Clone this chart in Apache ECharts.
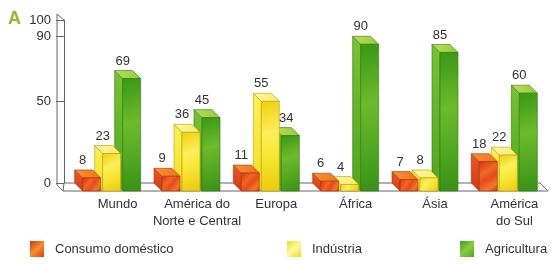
<!DOCTYPE html>
<html><head><meta charset="utf-8">
<script src="https://cdn.jsdelivr.net/npm/echarts@6/dist/echarts.min.js"></script>
<style>html,body{margin:0;padding:0;background:#fff}#c{width:551px;height:265px}</style>
</head><body><div id="c"></div>
<script>
const categories = ['Mundo', 'América do\nNorte e Central', 'Europa', 'África', 'Ásia', 'América\ndo Sul'];
const seriesNames = ['Consumo doméstico', 'Indústria', 'Agricultura'];
const domestic = [8, 9, 11, 6, 7, 18];
const industry = [23, 36, 55, 4, 8, 22];
const agriculture = [69, 45, 34, 90, 85, 60];
const yTickValues = [0, 50, 90, 100];

const allValues = [domestic, industry, agriculture];
const FONT = "'Liberation Sans', Arial, sans-serif";
const DX = -8, DY = -8;
const BAR_W = 18, BAR_STEP = 20;

function lin(stops, x2, y2) {
  return {type: 'linear', x: 0, y: 0, x2: x2 === undefined ? 1 : x2, y2: y2 === undefined ? 1 : y2,
    colorStops: stops.map(s => ({offset: s[0], color: s[1]}))};
}
const palettes = [
  { front: lin([[0,'#DC2E16'],[0.35,'#EE6A22'],[0.55,'#E84A1C'],[0.8,'#F07A26'],[1,'#D42C16']]),
    side: lin([[0,'#EA5A20'],[1,'#D23A18']],0,1), top: lin([[0,'#F5952E'],[1,'#EE7222']]), edge: '#A8300F',
    icon: lin([[0,'#D92E16'],[0.5,'#F5902C'],[1,'#E0401A']]) },
  { front: lin([[0,'#F0D00C'],[0.35,'#FBEE5C'],[0.6,'#F7E632'],[1,'#EBC80C']]),
    side: lin([[0,'#FBF05A'],[1,'#F3DE1C']],0,1), top: lin([[0,'#FCF6A8'],[1,'#F8EC66']]), edge: '#BC9C00',
    icon: lin([[0,'#F3DC20'],[0.5,'#FFF7A0'],[1,'#F2DA1A']]) },
  { front: lin([[0,'#3A9816'],[0.4,'#6DBA2A'],[0.7,'#52A820'],[1,'#379214']]),
    side: lin([[0,'#78C232'],[1,'#4FA61E']],0,1), top: lin([[0,'#BCDD56'],[1,'#94CA3A']]), edge: '#2E7812',
    icon: lin([[0,'#3E9E1A'],[0.5,'#8ACB3A'],[1,'#4FA820']]) }
];

function barGeom(api, ci, v, si) {
  const top = api.coord([ci, v]);
  const base = api.coord([ci, 0]);
  const cx = top[0] + (si - 1) * BAR_STEP;
  return {cx: cx, x0: cx - BAR_W / 2, x1: cx + BAR_W / 2, yT: top[1], yB: base[1]};
}

function makeBarSeries(si) {
  const p = palettes[si];
  return {
    name: seriesNames[si], type: 'custom', xAxisIndex: 0, yAxisIndex: 0, z: 5 - si,
    itemStyle: {color: p.icon},
    data: allValues[si].map((v, i) => [i, v]),
    renderItem: function (params, api) {
      const g = barGeom(api, api.value(0), api.value(1), si);
      const st = {stroke: p.edge, lineWidth: 0.6};
      return {type: 'group', children: [
        {type: 'polygon', shape: {points: [[g.x0, g.yT], [g.x0 + DX, g.yT + DY], [g.x0 + DX, g.yB + DY], [g.x0, g.yB]]},
          style: Object.assign({fill: p.side}, st)},
        {type: 'polygon', shape: {points: [[g.x0, g.yT], [g.x1, g.yT], [g.x1 + DX, g.yT + DY], [g.x0 + DX, g.yT + DY]]},
          style: Object.assign({fill: p.top}, st)},
        {type: 'rect', shape: {x: g.x0, y: g.yT, width: BAR_W, height: g.yB - g.yT},
          style: Object.assign({fill: p.front}, st)}
      ]};
    }
  };
}

const labelData = [];
allValues.forEach((arr, si) => arr.forEach((v, i) => labelData.push([i, v, si])));

const option = {
  animation: false,
  title: {text: 'A', left: 8, top: 10, padding: 0,
    textStyle: {fontFamily: FONT, fontSize: 18, fontWeight: 'bold', color: '#8CBF26'}},
  legend: [0, 1, 2].map((si) => ({
    data: [seriesNames[si]], left: [30, 287, 460][si], top: 241, padding: 0,
    icon: 'rect', itemWidth: 14, itemHeight: 16, selectedMode: false,
    textStyle: {fontFamily: FONT, fontSize: 13, color: '#333', padding: [0, 0, 0, 6]}
  })),
  grid: [
    {left: 72, right: 3, top: 28, bottom: 74},
    {left: 64, right: 11, top: 20, bottom: 82}
  ],
  xAxis: [
    {type: 'category', gridIndex: 0, data: categories,
      axisLine: {show: false}, axisTick: {show: false},
      axisLabel: {fontFamily: FONT, fontSize: 13, color: '#333', lineHeight: 17, margin: 5,
        padding: [0, 0, 0, 12], interval: 0}},
    {type: 'category', gridIndex: 1, data: categories, show: false}
  ],
  yAxis: [
    {type: 'value', gridIndex: 0, min: 0, max: 100, interval: 10, show: false},
    {type: 'value', gridIndex: 1, min: 0, max: 100, interval: 10,
      splitLine: {show: false},
      axisLine: {show: true, lineStyle: {color: '#666', width: 1}},
      axisTick: {show: true, length: 8, customValues: yTickValues, lineStyle: {color: '#666'}},
      axisLabel: {customValues: yTickValues, fontFamily: FONT, fontSize: 13, color: '#333', margin: 13}}
  ],
  series: [
    {type: 'custom', name: 'frame', xAxisIndex: 0, yAxisIndex: 0, z: 1, silent: true,
      data: [[0, 0]],
      renderItem: function (params, api) {
        const cs = params.coordSys;
        const fl = cs.x, fr = cs.x + cs.width, f0 = cs.y + cs.height;
        const bl = fl + DX, br = fr + DX, b0 = f0 + DY;
        const yTopB = api.coord([0, 100])[1] + DY;
        const ls = {stroke: '#666', lineWidth: 1, fill: null};
        return {type: 'group', children: [
          {type: 'polygon', shape: {points: [[bl, b0], [br, b0], [fr, f0], [bl - 1, f0]]},
            style: {fill: '#fff', stroke: '#666', lineWidth: 1}},
          {type: 'polyline', shape: {points: [[bl, yTopB], [bl - 7, yTopB - 6], [bl - 7, b0 + 2], [bl - 1, f0]]},
            style: ls}
        ]};
      }},
    makeBarSeries(0), makeBarSeries(1), makeBarSeries(2),
    {type: 'custom', name: 'values', xAxisIndex: 0, yAxisIndex: 0, z: 10, silent: true,
      data: labelData,
      renderItem: function (params, api) {
        const ci = api.value(0), v = api.value(1), si = api.value(2);
        const g = barGeom(api, ci, v, si);
        let x = g.cx + DX - 1;
        if (si > 0 && allValues[si - 1][ci] > v + 7) x += 5;
        return {type: 'text', style: {text: String(v), x: x, y: g.yT + DY - 3,
          align: 'center', verticalAlign: 'bottom', fill: '#333', font: '13px ' + FONT}};
      }}
  ]
};
const chart = echarts.init(document.getElementById('c'), null, {renderer: 'canvas'});
chart.setOption(option);
</script></body></html>
